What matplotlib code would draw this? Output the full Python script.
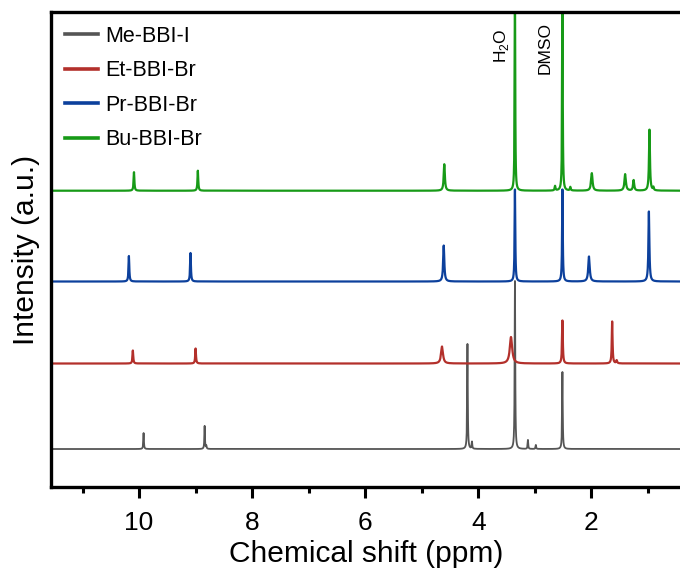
import numpy as np
import matplotlib
matplotlib.use('Agg')
import matplotlib.pyplot as plt

plt.rcParams['font.family'] = ['Liberation Sans', 'DejaVu Sans']
plt.rcParams['mathtext.fontset'] = 'custom'
plt.rcParams['mathtext.rm'] = 'Liberation Sans'

# peak lists: position (ppm), height (a.u.), half width (ppm)
labels = ['Me-BBI-I', 'Et-BBI-Br', 'Pr-BBI-Br', 'Bu-BBI-Br']
colors = ['#555555', '#b3302b', '#0c409c', '#179a17']
offsets = [38, 123.5, 205.5, 296.3]

me_ppm = [9.92, 8.84, 8.81, 4.19, 4.11, 3.35, 3.12, 2.98, 2.51]
me_height = [16, 23, 3, 105, 7, 168, 9, 4, 77]
me_width = [0.006, 0.006, 0.006, 0.006, 0.006, 0.006, 0.006, 0.006, 0.006]

et_ppm = [10.11, 9.00, 4.64, 3.42, 2.51, 1.63, 1.55]
et_height = [13, 15, 17, 26.5, 43, 42, 3]
et_width = [0.008, 0.008, 0.02, 0.025, 0.008, 0.008, 0.01]

pr_ppm = [10.18, 9.09, 4.61, 3.35, 2.51, 2.04, 0.98]
pr_height = [25.5, 28.5, 36, 92, 92, 25, 70]
pr_width = [0.008, 0.008, 0.012, 0.007, 0.007, 0.015, 0.01]

bu_ppm = [10.09, 8.96, 4.60, 3.35, 2.51, 2.64, 2.37, 1.99, 1.40, 1.25, 0.97, 0.90]
bu_height = [18.5, 20, 26.5, 200, 200, 4.5, 3.5, 17.5, 16.5, 10.5, 61, 3]
bu_width = [0.008, 0.008, 0.012, 0.006, 0.006, 0.008, 0.008, 0.015, 0.015, 0.012, 0.01, 0.008]

peaks = [(me_ppm, me_height, me_width), (et_ppm, et_height, et_width),
         (pr_ppm, pr_height, pr_width), (bu_ppm, bu_height, bu_width)]

ppm = np.arange(0.3, 11.7, 0.001)


def spectrum(pos, hgt, wid):
    """Sum of Lorentzian lines"""
    y = np.zeros_like(ppm)
    for p, h, w in zip(pos, hgt, wid):
        y += h * w**2 / ((ppm - p)**2 + w**2)
    return y


fig = plt.figure(figsize=(6.8, 5.69), dpi=100)
ax = fig.add_axes([0.0757, 0.1441, 1.0 - 0.0757, 0.9789 - 0.1441])

for (pos, hgt, wid), off, col, lab in zip(peaks, offsets, colors, labels):
    lw = 1.3 if lab == 'Me-BBI-I' else 1.6
    ax.plot(ppm, spectrum(pos, hgt, wid) + off, color=col, lw=lw, label=lab)

ax.set_xlim(11.55, 0.43)
ax.set_ylim(0, 475)
ax.set_xticks([10, 8, 6, 4, 2])
ax.set_xticks([11, 9, 7, 5, 3, 1], minor=True)
ax.set_yticks([])
ax.tick_params(axis='x', which='major', direction='out', length=8, width=2.2,
               labelsize=19, pad=9)
ax.tick_params(axis='x', which='minor', direction='out', length=4, width=2.2)
for side in ['left', 'top', 'bottom']:
    ax.spines[side].set_linewidth(2.4)
ax.spines['right'].set_visible(False)

ax.set_xlabel('Chemical shift (ppm)', fontsize=21.5, labelpad=4)
ax.set_ylabel('Intensity (a.u.)', fontsize=21.5, labelpad=8)

ax.text(3.59, 475 - 16, 'H$_2$O', rotation=90, ha='center', va='top', fontsize=12.5)
ax.text(2.82, 475 - 10, 'DMSO', rotation=90, ha='center', va='top', fontsize=12.5)

leg = ax.legend(loc='upper left', frameon=False, fontsize=15.5, handlelength=1.5,
                handletextpad=0.35, labelspacing=0.62, borderaxespad=0.25)
for line in leg.get_lines():
    line.set_linewidth(2.6)

fig.savefig('out.png', dpi=100)
